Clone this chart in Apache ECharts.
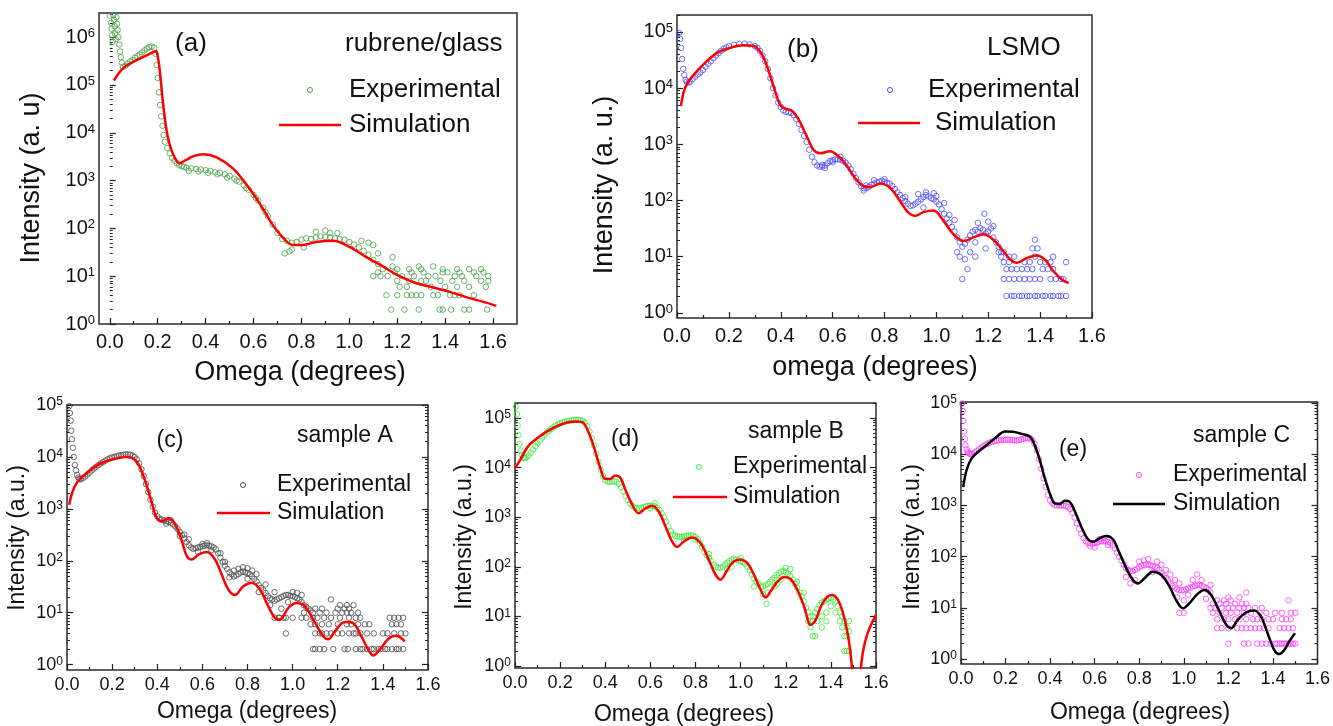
<!DOCTYPE html>
<html>
<head>
<meta charset="utf-8">
<script src="https://cdn.jsdelivr.net/npm/echarts@6/dist/echarts.min.js"></script>
<style>
html, body { margin: 0; padding: 0; background: #fff; }
#main { width: 1333px; height: 726px; }
</style>
</head>
<body>
<div id="main"></div>
<script>
// tick labels
const xLabelValues = [0, 0.2, 0.4, 0.6, 0.8, 1.0, 1.2, 1.4, 1.6];
const xMinorValues = [0.1, 0.3, 0.5, 0.7, 0.9, 1.1, 1.3, 1.5];
const decadesA = [1, 10, 100, 1e3, 1e4, 1e5, 1e6];
const decadesB = [1, 10, 100, 1e3, 1e4, 1e5];

// (a) rubrene/glass
const aExp = [
  [0.0, 2.8e6], [0.005, 2.0e6], [0.008, 1.5e6], [0.01, 1.1e6], [0.012, 8e5], [0.015, 2.9e6], [0.018, 2.3e6],
  [0.02, 1.7e6], [0.022, 1.2e6], [0.025, 9e5], [0.028, 2.6e6], [0.03, 1.9e6], [0.033, 1.4e6], [0.036, 1.0e6],
  [0.04, 7e5], [0.043, 5e5], [0.046, 3.8e5], [0.05, 2.9e5], [0.055, 2.4e5], [0.065, 2.5e5], [0.075, 2.8e5],
  [0.085, 3.1e5], [0.095, 3.3e5], [0.105, 3.7e5], [0.115, 4.0e5], [0.125, 4.3e5], [0.135, 4.8e5], [0.145, 5.3e5],
  [0.155, 5.8e5], [0.165, 6.2e5], [0.175, 6.4e5], [0.185, 6.0e5], [0.19, 4.5e5], [0.195, 2.6e5], [0.2, 1.4e5],
  [0.205, 7e4], [0.21, 3.8e4], [0.215, 2.2e4], [0.22, 1.4e4], [0.225, 9e3], [0.23, 6.5e3], [0.24, 4.8e3],
  [0.25, 3.7e3], [0.26, 3.0e3], [0.27, 2.6e3], [0.28, 2.3e3], [0.29, 2.1e3], [0.3, 2.0e3], [0.31, 1.95e3],
  [0.32, 1.85e3], [0.34, 1.8e3], [0.36, 1.75e3], [0.38, 1.7e3], [0.4, 1.65e3], [0.42, 1.6e3], [0.44, 1.5e3],
  [0.46, 1.45e3], [0.48, 1.35e3], [0.5, 1.25e3], [0.52, 1.1e3], [0.54, 950], [0.56, 800], [0.58, 640],
  [0.6, 500], [0.62, 380], [0.64, 270], [0.66, 180], [0.68, 120], [0.7, 80], [0.72, 60], [0.74, 55],
  [0.76, 50], [0.78, 52], [0.8, 58], [0.82, 62], [0.84, 60], [0.86, 64], [0.88, 68], [0.9, 66], [0.92, 65],
  [0.94, 62], [0.96, 60], [0.98, 58], [1.0, 52], [1.02, 46], [1.04, 40], [1.06, 34], [1.08, 28], [1.1, 22],
  [1.12, 18], [0.33, 1.6e3], [0.37, 1.55e3], [0.41, 1.45e3], [0.45, 1.35e3], [0.49, 1.15e3], [0.53, 1.0e3],
  [0.57, 700], [0.61, 430], [0.65, 220], [0.73, 30], [0.75, 33], [0.76, 36], [0.9, 90], [0.92, 80], [0.86, 85],
  [0.95, 80], [1.05, 55], [1.08, 50], [1.1, 45], [1.12, 30], [1.1, 10], [1.12, 12], [1.18, 25], [0.81, 40],
  [1.175, 2], [1.23, 2], [1.29, 2], [1.377, 2], [1.39, 2], [1.425, 2], [1.48, 2], [1.5, 2], [1.575, 2],
  [1.155, 4], [1.2, 4], [1.24, 4], [1.26, 4], [1.28, 4], [1.3, 4], [1.35, 4], [1.37, 4], [1.42, 4], [1.44, 4],
  [1.46, 4], [1.52, 4], [1.21, 6], [1.24, 6], [1.34, 6], [1.4, 6], [1.45, 6], [1.5, 6], [1.57, 6],
  [1.2, 8], [1.25, 8], [1.3, 8], [1.32, 8], [1.38, 8], [1.43, 8], [1.48, 8], [1.55, 8], [1.58, 8],
  [1.13, 10], [1.16, 10], [1.22, 10], [1.27, 10], [1.33, 10], [1.36, 10], [1.44, 10], [1.47, 10], [1.53, 10],
  [1.58, 10], [1.19, 12], [1.26, 12], [1.31, 12], [1.39, 12], [1.41, 12], [1.46, 12], [1.52, 12], [1.56, 12],
  [1.14, 14], [1.2, 14], [1.25, 14], [1.3, 14], [1.39, 14], [1.45, 14], [1.5, 14], [1.55, 14],
  [1.18, 16], [1.29, 16], [1.35, 16]
];
const aSim = [
  [0.017, 1.24e5], [0.054, 2.2e5], [0.096, 3.0e5], [0.152, 4.1e5], [0.185, 5.0e5], [0.194, 5.1e5], [0.2, 4.0e5],
  [0.207, 2.4e5], [0.221, 4.8e4], [0.235, 1.3e4], [0.249, 5.9e3], [0.27, 3.1e3], [0.291, 2.3e3], [0.319, 2.7e3],
  [0.347, 3.2e3], [0.389, 3.55e3], [0.444, 3.1e3], [0.514, 1.8e3], [0.583, 680], [0.639, 260], [0.681, 117],
  [0.723, 64], [0.765, 45], [0.806, 45], [0.862, 52], [0.932, 55], [1.001, 41], [1.071, 25], [1.14, 16],
  [1.21, 10], [1.28, 7.1], [1.35, 5.8], [1.42, 4.7], [1.49, 3.6], [1.56, 2.9], [1.614, 2.4]
];

// (b) LSMO
const bExp = [
  [0.008, 9.6e4], [0.012, 7.5e4], [0.016, 5.2e4], [0.02, 3.3e4], [0.024, 2.2e4], [0.028, 1.7e4], [0.033, 1.4e4],
  [0.038, 1.3e4], [0.045, 1.25e4], [0.05, 1.3e4], [0.06, 1.45e4], [0.07, 1.6e4], [0.08, 1.75e4], [0.09, 1.9e4],
  [0.1, 2.1e4], [0.11, 2.4e4], [0.12, 2.7e4], [0.13, 3.0e4], [0.14, 3.4e4], [0.15, 3.8e4], [0.16, 4.2e4],
  [0.17, 4.6e4], [0.18, 5.0e4], [0.19, 5.3e4], [0.2, 5.6e4], [0.22, 5.9e4], [0.24, 6.1e4], [0.26, 6.2e4],
  [0.28, 6.0e4], [0.3, 5.6e4], [0.31, 5.2e4], [0.32, 4.6e4], [0.33, 3.8e4], [0.34, 3.0e4], [0.35, 2.2e4],
  [0.36, 1.5e4], [0.37, 1.0e4], [0.38, 7.5e3], [0.39, 5.5e3], [0.4, 4.6e3], [0.41, 4.0e3], [0.42, 3.8e3],
  [0.43, 3.7e3], [0.44, 3.6e3], [0.45, 3.3e3], [0.46, 2.8e3], [0.47, 2.3e3], [0.48, 1.8e3], [0.49, 1.4e3],
  [0.5, 1.1e3], [0.51, 800], [0.52, 600], [0.53, 480], [0.54, 420], [0.55, 400], [0.56, 400], [0.57, 420],
  [0.58, 460], [0.59, 500], [0.6, 520], [0.61, 540], [0.62, 540], [0.63, 530], [0.64, 510], [0.65, 470],
  [0.66, 420], [0.67, 360], [0.68, 300], [0.69, 250], [0.7, 210], [0.71, 180], [0.72, 165], [0.73, 165],
  [0.74, 175], [0.75, 190], [0.76, 200], [0.77, 210], [0.78, 215], [0.79, 225], [0.8, 215], [0.81, 205],
  [0.82, 200], [0.83, 180], [0.84, 160], [0.85, 140], [0.86, 125], [0.87, 110], [0.88, 98], [0.89, 88],
  [0.9, 80], [0.91, 82], [0.92, 88], [0.93, 95], [0.94, 105], [0.95, 115], [0.96, 125], [0.97, 118],
  [0.98, 110], [0.99, 105], [1.0, 95], [1.01, 85], [1.02, 70], [1.03, 58], [1.04, 48], [1.05, 40], [1.06, 34],
  [1.07, 28], [1.08, 22], [1.09, 18], [1.1, 15], [1.11, 17], [1.12, 20], [1.13, 24], [1.14, 28], [1.15, 30],
  [1.16, 28], [1.17, 32], [1.18, 30], [1.19, 26], [1.2, 28], [1.21, 32], [1.22, 22], [1.23, 18], [1.24, 15],
  [1.25, 12], [0.93, 130], [0.96, 140], [0.95, 75], [0.99, 135], [1.0, 120], [1.03, 90], [1.05, 55], [1.07, 45],
  [1.08, 12], [1.09, 10], [1.1, 4], [1.12, 6], [1.13, 12], [1.15, 18], [1.16, 40], [1.185, 58], [1.2, 42],
  [1.22, 35], [1.19, 14], [1.15, 10], [1.11, 9], [0.57, 380], [0.6, 480], [0.63, 600], [0.56, 430],
  [0.88, 115], [0.76, 230], [0.8, 240], [0.72, 150], [0.73, 185],
  [1.27, 2], [1.29, 2], [1.3, 2], [1.32, 2], [1.33, 2], [1.35, 2], [1.36, 2], [1.38, 2], [1.39, 2], [1.41, 2],
  [1.42, 2], [1.44, 2], [1.45, 2], [1.47, 2], [1.48, 2], [1.5, 2],
  [1.26, 4], [1.28, 4], [1.3, 4], [1.32, 4], [1.34, 4], [1.36, 4], [1.38, 4], [1.4, 4], [1.44, 4], [1.46, 4],
  [1.48, 4], [1.49, 4], [1.27, 6], [1.29, 6], [1.31, 6], [1.33, 6], [1.35, 6], [1.37, 6], [1.41, 6], [1.43, 6],
  [1.45, 6], [1.26, 8], [1.28, 8], [1.34, 8], [1.36, 8], [1.4, 8], [1.42, 8], [1.44, 8], [1.5, 8],
  [1.25, 10], [1.28, 10], [1.3, 10], [1.38, 10], [1.45, 10], [1.24, 12], [1.26, 12], [1.37, 14], [1.39, 14],
  [1.38, 20]
];
const bSim = [
  [0.015, 4.8e3], [0.031, 1.0e4], [0.063, 1.7e4], [0.1, 2.6e4], [0.153, 4.2e4], [0.205, 5.2e4], [0.256, 5.8e4],
  [0.295, 5.6e4], [0.327, 4.0e4], [0.352, 2.1e4], [0.378, 8.8e3], [0.397, 5.1e3], [0.417, 4.3e3], [0.442, 4.0e3],
  [0.468, 2.8e3], [0.5, 1.4e3], [0.526, 800], [0.552, 690], [0.59, 755], [0.622, 615], [0.655, 410], [0.687, 252],
  [0.719, 180], [0.745, 174], [0.783, 200], [0.822, 167], [0.86, 97], [0.893, 60], [0.918, 53], [0.95, 62],
  [0.989, 66], [1.028, 43], [1.066, 25], [1.105, 19], [1.143, 22], [1.182, 25], [1.22, 20], [1.253, 13.4],
  [1.285, 8.9], [1.31, 7.8], [1.35, 9.5], [1.388, 10.5], [1.42, 8.7], [1.452, 5.5], [1.484, 3.9], [1.51, 3.4]
];

// (c) sample A
const cExp = [
  [0.01, 9.5e4], [0.013, 7e4], [0.016, 5e4], [0.019, 3.2e4], [0.022, 2.2e4], [0.026, 1.5e4], [0.03, 1e4],
  [0.035, 7e3], [0.04, 5.5e3], [0.045, 4.5e3], [0.05, 4e3], [0.055, 3.8e3], [0.06, 3.7e3], [0.07, 3.9e3],
  [0.08, 4.2e3], [0.09, 4.6e3], [0.1, 5e3], [0.11, 5.5e3], [0.12, 6e3], [0.13, 6.5e3], [0.14, 7e3],
  [0.15, 7.5e3], [0.16, 8e3], [0.17, 8.5e3], [0.18, 9e3], [0.19, 9.4e3], [0.2, 9.8e3], [0.21, 1.0e4],
  [0.22, 1.03e4], [0.23, 1.06e4], [0.24, 1.08e4], [0.25, 1.1e4], [0.26, 1.12e4], [0.27, 1.12e4], [0.28, 1.1e4],
  [0.29, 1.06e4], [0.3, 1.0e4], [0.31, 9e3], [0.32, 7.5e3], [0.33, 5.8e3], [0.34, 4.3e3], [0.35, 3.0e3],
  [0.36, 2.1e3], [0.37, 1.5e3], [0.38, 1.1e3], [0.39, 850], [0.4, 720], [0.41, 650], [0.42, 620], [0.43, 600],
  [0.44, 580], [0.45, 560], [0.46, 540], [0.47, 500], [0.48, 460], [0.49, 410], [0.5, 360], [0.51, 310],
  [0.52, 270], [0.53, 230], [0.54, 200], [0.55, 180], [0.56, 170], [0.57, 175], [0.58, 180], [0.59, 185],
  [0.6, 190], [0.61, 195], [0.62, 200], [0.63, 195], [0.64, 190], [0.65, 180], [0.66, 165], [0.67, 140],
  [0.68, 115], [0.69, 95], [0.7, 80], [0.71, 70], [0.72, 60], [0.73, 55], [0.74, 50], [0.75, 52], [0.76, 56],
  [0.77, 60], [0.78, 62], [0.79, 60], [0.8, 58], [0.81, 55], [0.82, 50], [0.83, 45], [0.84, 40], [0.85, 34],
  [0.86, 30], [0.87, 27], [0.88, 24], [0.89, 21], [0.9, 19], [0.91, 18], [0.92, 17], [0.93, 18], [0.94, 19],
  [0.95, 20], [0.96, 21], [0.97, 22], [0.98, 22], [0.99, 21], [1.0, 21], [1.01, 20], [1.02, 19], [1.03, 18],
  [1.04, 16], [1.05, 14], [1.06, 13], [1.07, 12], [1.08, 11],
  [0.62, 220], [0.64, 160], [0.58, 150], [0.6, 210], [0.7, 95], [0.72, 48], [0.74, 65], [0.76, 70], [0.78, 75],
  [0.8, 72], [0.82, 65], [0.8, 45], [0.84, 55], [0.85, 25], [0.88, 35], [0.9, 14], [0.92, 25], [0.95, 12],
  [0.96, 8], [0.97, 4], [0.98, 16], [1.0, 25], [1.02, 24], [1.04, 22], [1.06, 8], [1.05, 10], [0.92, 8],
  [0.94, 8], [0.5, 300], [0.52, 320], [0.46, 600], [0.44, 520], [0.54, 260], [0.68, 140],
  [1.09, 2], [1.1, 2], [1.12, 2], [1.14, 2], [1.18, 2], [1.23, 2], [1.245, 2], [1.28, 2], [1.3, 2], [1.31, 2],
  [1.33, 2], [1.35, 2], [1.36, 2], [1.38, 2], [1.39, 2], [1.41, 2], [1.42, 2], [1.44, 2], [1.46, 2], [1.47, 2],
  [1.49, 2], [1.1, 4], [1.12, 4], [1.13, 4], [1.15, 4], [1.17, 4], [1.2, 4], [1.22, 4], [1.25, 4], [1.27, 4],
  [1.28, 4], [1.3, 4], [1.33, 4], [1.36, 4], [1.4, 4], [1.42, 4], [1.45, 4], [1.48, 4], [1.5, 4],
  [1.08, 6], [1.1, 6], [1.13, 6], [1.16, 6], [1.2, 6], [1.24, 6], [1.26, 6], [1.29, 6], [1.32, 6], [1.34, 6],
  [1.44, 6], [1.46, 6], [1.48, 6], [0.94, 8], [0.97, 8], [1.0, 8], [1.04, 8], [1.09, 8], [1.11, 8], [1.14, 8],
  [1.17, 8], [1.21, 8], [1.25, 8], [1.28, 8], [1.3, 8], [1.43, 8], [1.45, 8], [1.47, 8], [1.49, 8],
  [1.09, 10], [1.12, 10], [1.15, 10], [1.19, 10], [1.22, 10], [1.24, 10], [1.26, 10], [1.29, 10],
  [1.1, 12], [1.13, 12], [1.2, 12], [1.23, 12], [1.25, 12], [1.21, 14], [1.24, 14], [1.27, 14], [1.17, 18]
];
const cSim = [
  [0.01, 1.2e3], [0.022, 2.0e3], [0.044, 3.2e3], [0.081, 4.6e3], [0.14, 7.2e3], [0.2, 8.9e3], [0.258, 1.0e4],
  [0.288, 9.6e3], [0.317, 7.2e3], [0.347, 3.4e3], [0.376, 1.3e3], [0.398, 670], [0.42, 580], [0.45, 670],
  [0.48, 500], [0.509, 240], [0.531, 123], [0.553, 106], [0.583, 132], [0.62, 147], [0.656, 106], [0.686, 54],
  [0.715, 28], [0.745, 22], [0.78, 32], [0.819, 38], [0.855, 28], [0.892, 13.3], [0.922, 7.9], [0.944, 7.4],
  [0.981, 12.4], [1.018, 15.4], [1.055, 13.3], [1.1, 6.3], [1.136, 3.5], [1.158, 3.1], [1.187, 4.4],
  [1.232, 6.6], [1.268, 6.3], [1.305, 3.5], [1.335, 1.95], [1.357, 1.5], [1.386, 1.95], [1.423, 3.1],
  [1.453, 3.6], [1.475, 3.4], [1.497, 2.8]
];

// (d) sample B
const dExp = [
  [0.004, 1.7e5], [0.008, 1.2e5], [0.012, 7e4], [0.016, 4.5e4], [0.02, 3e4], [0.025, 2.2e4], [0.03, 1.8e4],
  [0.035, 1.6e4], [0.04, 1.55e4], [0.045, 1.55e4], [0.05, 1.6e4], [0.06, 1.75e4], [0.07, 2e4], [0.08, 2.3e4],
  [0.09, 2.7e4], [0.1, 3.1e4], [0.11, 3.5e4], [0.12, 4e4], [0.13, 4.5e4], [0.14, 5e4], [0.15, 5.5e4],
  [0.16, 6e4], [0.17, 6.5e4], [0.18, 7e4], [0.19, 7.4e4], [0.2, 7.8e4], [0.21, 8.1e4], [0.22, 8.4e4],
  [0.23, 8.6e4], [0.24, 8.8e4], [0.25, 8.9e4], [0.26, 9e4], [0.27, 9.1e4], [0.28, 9.1e4], [0.29, 9e4],
  [0.3, 8.7e4], [0.31, 8e4], [0.32, 6.8e4], [0.33, 5.3e4], [0.34, 3.9e4], [0.35, 2.8e4], [0.36, 1.9e4],
  [0.37, 1.3e4], [0.38, 9e3], [0.39, 6.8e3], [0.4, 5.6e3], [0.41, 5.2e3], [0.42, 5.1e3], [0.43, 5.2e3],
  [0.44, 5.3e3], [0.45, 5.1e3], [0.46, 4.7e3], [0.47, 4e3], [0.48, 3.3e3], [0.49, 2.7e3], [0.5, 2.2e3],
  [0.51, 1.9e3], [0.52, 1.7e3], [0.53, 1.55e3], [0.54, 1.5e3], [0.55, 1.5e3], [0.56, 1.55e3], [0.57, 1.6e3],
  [0.58, 1.65e3], [0.59, 1.7e3], [0.6, 1.7e3], [0.61, 1.7e3], [0.62, 1.65e3], [0.63, 1.55e3], [0.64, 1.4e3],
  [0.65, 1.2e3], [0.66, 1.0e3], [0.67, 820], [0.68, 650], [0.69, 520], [0.7, 450], [0.71, 420], [0.72, 410],
  [0.73, 400], [0.74, 400], [0.75, 410], [0.76, 420], [0.77, 430], [0.78, 430], [0.79, 420], [0.8, 400],
  [0.81, 360], [0.82, 300], [0.83, 250], [0.84, 200], [0.85, 170], [0.86, 150], [0.87, 130], [0.88, 110],
  [0.89, 100], [0.9, 95], [0.91, 95], [0.92, 100], [0.93, 110], [0.94, 120], [0.95, 130], [0.96, 140],
  [0.97, 145], [0.98, 140], [0.99, 135], [1.0, 130], [1.01, 125], [1.02, 115], [1.03, 100], [1.04, 85],
  [1.05, 70], [1.06, 58], [1.07, 50], [1.08, 45], [1.09, 40], [1.1, 40], [1.11, 42], [1.12, 45], [1.13, 50],
  [1.14, 55], [1.15, 60], [1.16, 68], [1.17, 75], [1.18, 80], [1.19, 82], [1.2, 78], [1.21, 72], [1.22, 65],
  [1.23, 55], [1.24, 45], [1.25, 38], [1.26, 30], [1.27, 25], [1.28, 20], [1.29, 15], [1.3, 12], [1.31, 10],
  [1.32, 10], [1.33, 12], [1.34, 14], [1.35, 17], [1.36, 19], [1.37, 20], [1.38, 22], [1.39, 23], [1.4, 24],
  [1.41, 22], [1.42, 20], [1.43, 16], [1.44, 12], [1.45, 10], [1.46, 8], [1.47, 6], [1.48, 5],
  [0.94, 90], [0.96, 100], [1.0, 150], [1.06, 40], [1.1, 28], [1.115, 18], [1.12, 30], [1.15, 40], [1.2, 95],
  [1.22, 90], [1.25, 50], [1.28, 30], [1.3, 8], [1.31, 6], [1.32, 4], [1.33, 4], [1.32, 8], [1.34, 8],
  [1.36, 10], [1.38, 12], [1.4, 16], [1.42, 12], [1.44, 8], [1.45, 6], [1.46, 4], [1.47, 4], [1.46, 2],
  [1.47, 2], [1.48, 2], [1.48, 8], [1.36, 6], [1.38, 8], [1.18, 55], [1.16, 45], [0.86, 180], [0.8, 350],
  [0.75, 350], [0.6, 1.5e3], [0.62, 1.9e3]
];
const dSim = [
  [0.0, 9.8e3], [0.022, 1.4e4], [0.059, 2.7e4], [0.111, 4.3e4], [0.17, 6.3e4], [0.23, 8.1e4], [0.274, 8.5e4],
  [0.304, 7.9e4], [0.333, 4.3e4], [0.356, 2.1e4], [0.378, 9.8e3], [0.4, 5.9e3], [0.422, 5.9e3], [0.444, 6.9e3],
  [0.467, 6.2e3], [0.489, 3.6e3], [0.519, 1.8e3], [0.548, 1.2e3], [0.578, 1.5e3], [0.607, 1.7e3],
  [0.637, 1.3e3], [0.667, 650], [0.696, 324], [0.719, 250], [0.748, 324], [0.785, 390], [0.822, 300],
  [0.859, 138], [0.889, 69], [0.911, 55], [0.941, 87], [0.97, 128], [1.0, 138], [1.03, 118], [1.059, 69],
  [1.089, 34], [1.111, 24], [1.133, 32], [1.163, 50], [1.193, 62], [1.222, 56], [1.252, 34], [1.281, 16],
  [1.311, 6.7], [1.333, 8.5], [1.356, 16], [1.385, 25], [1.407, 27], [1.43, 22], [1.452, 12.5], [1.474, 4.6],
  [1.489, 1.5], [1.5, 0.4], [1.511, 0.15], [1.526, 0.4], [1.541, 1.8], [1.563, 4.6], [1.6, 10.7]
];

// (e) sample C
const eExp = [
  [0.005, 9.8e4], [0.008, 7e4], [0.011, 4.5e4], [0.014, 2.8e4], [0.017, 2e4], [0.02, 1.5e4], [0.025, 1.25e4],
  [0.03, 1.12e4], [0.035, 1.05e4], [0.04, 1.02e4], [0.045, 1.0e4], [0.05, 1.02e4], [0.06, 1.08e4],
  [0.07, 1.15e4], [0.08, 1.25e4], [0.09, 1.35e4], [0.1, 1.45e4], [0.11, 1.55e4], [0.12, 1.62e4], [0.13, 1.7e4],
  [0.14, 1.75e4], [0.15, 1.8e4], [0.16, 1.85e4], [0.17, 1.88e4], [0.18, 1.9e4], [0.19, 1.92e4], [0.2, 1.92e4],
  [0.21, 1.93e4], [0.22, 1.92e4], [0.23, 1.9e4], [0.24, 1.88e4], [0.25, 1.85e4], [0.26, 1.9e4], [0.27, 1.95e4],
  [0.28, 2.0e4], [0.29, 2.05e4], [0.3, 2.1e4], [0.31, 2.05e4], [0.32, 1.9e4], [0.33, 1.6e4], [0.34, 1.2e4],
  [0.35, 8e3], [0.36, 5.2e3], [0.37, 3.4e3], [0.38, 2.3e3], [0.39, 1.6e3], [0.4, 1.25e3], [0.41, 1.1e3],
  [0.42, 1.02e3], [0.43, 1.0e3], [0.44, 1.0e3], [0.45, 1.0e3], [0.46, 1.0e3], [0.47, 980], [0.48, 940],
  [0.49, 850], [0.5, 720], [0.51, 580], [0.52, 450], [0.53, 350], [0.54, 280], [0.55, 230], [0.56, 200],
  [0.57, 185], [0.58, 180], [0.59, 180], [0.6, 185], [0.61, 190], [0.62, 195], [0.63, 200], [0.64, 200],
  [0.65, 198], [0.66, 195], [0.67, 185], [0.68, 165], [0.69, 145], [0.7, 120], [0.71, 100], [0.72, 85],
  [0.73, 70], [0.74, 60], [0.75, 55], [0.76, 52], [0.77, 52], [0.78, 55], [0.79, 58], [0.8, 62], [0.81, 66],
  [0.82, 68], [0.83, 70], [0.84, 70], [0.85, 68], [0.86, 66], [0.87, 64], [0.88, 60], [0.89, 55], [0.9, 48],
  [0.91, 42], [0.92, 38], [0.93, 34], [0.94, 30], [0.95, 27], [0.96, 25], [0.97, 23], [0.98, 22], [0.99, 22],
  [1.0, 22], [1.01, 23], [1.02, 24], [1.03, 25], [1.04, 26], [1.05, 27], [1.06, 28], [1.07, 28], [1.08, 27],
  [1.09, 26], [1.1, 24], [1.11, 22], [1.12, 20],
  [0.6, 150], [0.62, 220], [0.58, 160], [0.64, 230], [0.66, 170], [0.74, 40], [0.76, 30], [0.78, 35],
  [0.8, 80], [0.82, 85], [0.84, 90], [0.86, 50], [0.88, 80], [0.9, 70], [0.92, 55], [0.94, 45], [0.96, 35],
  [0.98, 8], [1.0, 14], [1.02, 18], [1.04, 35], [1.06, 45], [1.08, 35], [1.1, 15], [1.12, 28], [0.98, 30],
  [1.0, 8], [0.97, 16],
  [1.2, 2], [1.27, 2], [1.29, 2], [1.33, 2], [1.35, 2], [1.37, 2], [1.39, 2], [1.41, 2], [1.42, 2], [1.43, 2],
  [1.44, 2], [1.45, 2], [1.46, 2], [1.47, 2], [1.48, 2], [1.49, 2], [1.5, 2],
  [1.15, 4], [1.17, 4], [1.2, 4], [1.24, 4], [1.26, 4], [1.28, 4], [1.3, 4], [1.32, 4], [1.34, 4], [1.36, 4],
  [1.38, 4], [1.43, 4], [1.45, 4], [1.47, 4], [1.49, 4],
  [1.15, 6], [1.18, 6], [1.2, 6], [1.23, 6], [1.25, 6], [1.28, 6], [1.31, 6], [1.33, 6], [1.35, 6], [1.38, 6],
  [1.4, 6], [1.44, 6], [1.46, 6], [1.48, 6],
  [1.13, 8], [1.16, 8], [1.19, 8], [1.21, 8], [1.24, 8], [1.27, 8], [1.3, 8], [1.34, 8], [1.37, 8], [1.41, 8],
  [1.44, 8], [1.48, 8], [1.5, 8], [1.12, 10], [1.14, 10], [1.17, 10], [1.2, 10], [1.22, 10], [1.25, 10],
  [1.27, 10], [1.29, 10], [1.32, 10], [1.35, 10], [1.13, 12], [1.16, 12], [1.19, 12], [1.23, 12], [1.26, 12],
  [1.28, 12], [1.15, 14], [1.18, 14], [1.21, 14], [1.47, 14], [1.2, 16], [1.25, 16], [1.28, 20]
];
const eSim = [
  [0.01, 2.3e3], [0.025, 4.9e3], [0.048, 8.3e3], [0.085, 1.2e4], [0.122, 1.6e4], [0.16, 2.2e4], [0.197, 2.8e4],
  [0.234, 2.75e4], [0.272, 2.5e4], [0.31, 2.2e4], [0.331, 1.5e4], [0.354, 7.6e3], [0.376, 3.4e3], [0.399, 1.7e3],
  [0.421, 1.1e3], [0.443, 1.07e3], [0.466, 1.23e3], [0.488, 1.17e3], [0.51, 790], [0.54, 385], [0.57, 218],
  [0.593, 195], [0.622, 229], [0.652, 253], [0.682, 218], [0.712, 116], [0.742, 59], [0.772, 35], [0.794, 30],
  [0.824, 38], [0.861, 51], [0.899, 44], [0.936, 26], [0.966, 14], [0.996, 9.8], [1.025, 12.3], [1.063, 19],
  [1.093, 22.4], [1.122, 18], [1.16, 8.5], [1.19, 4.7], [1.212, 4.0], [1.242, 5.8], [1.279, 8.1], [1.316, 8.9],
  [1.346, 6.8], [1.376, 3.2], [1.406, 1.5], [1.428, 1.25], [1.451, 1.5], [1.473, 2.2], [1.499, 3.2]
];

const FONT = "'Liberation Sans', Arial, sans-serif";

// minor log ticks 2..9 per decade inside the axis range
function logMinor(lo, hi, max) {
  const out = [];
  for (let k = lo; k < hi; k++) {
    for (let m = 2; m <= 9; m++) {
      const v = m * Math.pow(10, k);
      if (v <= max) out.push(v);
    }
  }
  return out;
}

const panels = [
  {
    grid: { left: 99, top: 13, width: 418, height: 311 }, xMin: -0.045, xMax: 1.70,
    yMin: 1, yMax: 3.2e6, decades: decadesA, exp: aExp, sim: aSim,
    expColor: '#46a046', simColor: '#ff0000', mirror: false, big: true,
    xTitle: 'Omega (degrees)', yTitle: 'Intensity (a. u)', xTitlePos: [300, 373], yTitlePos: [32, 178],
    tag: '(a)', tagPos: [191, 44], name: 'rubrene/glass', namePos: [345, 44],
    legX: 349, legExpY: 90, legSimY: 125, symX: 310, lineX: [279, 341]
  },
  {
    grid: { left: 677, top: 15, width: 415, height: 303 }, xMin: 0, xMax: 1.6,
    yMin: 0.81, yMax: 2e5, decades: decadesB, exp: bExp, sim: bSim,
    expColor: '#4f4fff', simColor: '#ff0000', mirror: false, big: true,
    xTitle: 'omega (degrees)', yTitle: 'Intensity (a. u.)', xTitlePos: [875, 368], yTitlePos: [605, 185],
    tag: '(b)', tagPos: [803, 50], name: 'LSMO', namePos: [987, 48],
    legX: 928, legSimX: 935, legExpY: 90, legSimY: 123, symX: 890, lineX: [858, 920]
  },
  {
    grid: { left: 67, top: 405, width: 361, height: 265 }, xMin: 0, xMax: 1.6,
    yMin: 0.79, yMax: 1e5, decades: decadesB, exp: cExp, sim: cSim,
    expColor: '#4d4d4d', simColor: '#ff0000', mirror: true, big: false,
    xTitle: 'Omega (degrees)', yTitle: 'Intensity (a.u.)', xTitlePos: [247, 712], yTitlePos: [18, 538],
    tag: '(c)', tagPos: [170, 441], name: 'sample A', namePos: [297, 436],
    legX: 277, legExpY: 485, legSimY: 513, symX: 243, lineX: [217, 270]
  },
  {
    grid: { left: 515, top: 403, width: 361, height: 265 }, xMin: 0, xMax: 1.6,
    yMin: 0.91, yMax: 2e5, decades: decadesB, exp: dExp, sim: dSim,
    expColor: '#3fe83f', simColor: '#ff0000', mirror: true, big: false,
    xTitle: 'Omega (degrees)', yTitle: 'Intensity (a.u.)', xTitlePos: [684, 715], yTitlePos: [465, 537],
    tag: '(d)', tagPos: [625, 440], name: 'sample B', namePos: [748, 432],
    legX: 733, legExpY: 467, legSimY: 497, symX: 699, lineX: [673, 727]
  },
  {
    grid: { left: 961, top: 402, width: 357, height: 262 }, xMin: 0, xMax: 1.6,
    yMin: 0.8, yMax: 1.05e5, decades: decadesB, exp: eExp, sim: eSim,
    expColor: '#ff3cff', simColor: '#000000', mirror: true, big: false,
    xTitle: 'Omega (degrees)', yTitle: 'Intensity (a.u.)', xTitlePos: [1140, 713], yTitlePos: [913, 537],
    tag: '(e)', tagPos: [1073, 450], name: 'sample C', namePos: [1193, 436],
    legX: 1173, legExpY: 475, legSimY: 504, symX: 1139, lineX: [1113, 1165]
  }
];

const grids = [], xAxes = [], yAxes = [], series = [], graphics = [];

panels.forEach((p, i) => {
  const tickFont = p.big ? 20 : 18;
  const supFont = p.big ? 13 : 12;
  const textFont = p.big ? 26 : 23;
  const titleFont = p.big ? 27 : 23;
  grids.push(Object.assign({ show: true, borderColor: '#2b2b2b', borderWidth: 1.5 }, p.grid));

  const xBase = {
    gridIndex: i, type: 'value', min: p.xMin, max: p.xMax, position: 'bottom',
    axisLine: { show: false }, splitLine: { show: false }
  };
  const xMain = xAxes.length;
  xAxes.push(Object.assign({}, xBase, {
    axisTick: { inside: true, length: 6, customValues: xLabelValues, lineStyle: { color: '#222', width: 1.2 } },
    axisLabel: {
      customValues: xLabelValues, margin: p.big ? 8 : 6, fontSize: tickFont, fontFamily: FONT, color: '#111',
      formatter: (v) => v.toFixed(1)
    }
  }));
  xAxes.push(Object.assign({}, xBase, {
    axisTick: { inside: true, length: 3, customValues: xMinorValues, lineStyle: { color: '#222', width: 1.2 } },
    axisLabel: { show: false }
  }));

  const yBase = {
    gridIndex: i, type: 'log', logBase: 10, min: p.yMin, max: p.yMax,
    axisLine: { show: false }, splitLine: { show: false }
  };
  const minor = logMinor(0, p.decades.length, p.yMax);
  const yMain = yAxes.length;
  yAxes.push(Object.assign({}, yBase, {
    position: 'left',
    axisTick: { inside: true, length: 6, customValues: p.decades, lineStyle: { color: '#222', width: 1.2 } },
    axisLabel: {
      customValues: p.decades, margin: 4,
      formatter: (v) => '{b|10}{s|' + Math.round(Math.log10(v)) + '}',
      rich: {
        b: { fontSize: tickFont, fontFamily: FONT, color: '#111' },
        s: { fontSize: supFont, fontFamily: FONT, color: '#111', verticalAlign: 'top' }
      }
    }
  }));
  yAxes.push(Object.assign({}, yBase, {
    position: 'left',
    axisTick: { inside: true, length: 3, customValues: minor, lineStyle: { color: '#222', width: 1 } },
    axisLabel: { show: false }
  }));
  if (p.mirror) {
    yAxes.push(Object.assign({}, yBase, {
      position: 'right',
      axisTick: { inside: true, length: 6, customValues: p.decades, lineStyle: { color: '#222', width: 1.2 } },
      axisLabel: { show: false }
    }));
    yAxes.push(Object.assign({}, yBase, {
      position: 'right',
      axisTick: { inside: true, length: 3, customValues: minor, lineStyle: { color: '#222', width: 1 } },
      axisLabel: { show: false }
    }));
  }

  series.push({
    name: 'Experimental', type: 'scatter', xAxisIndex: xMain, yAxisIndex: yMain,
    data: p.exp, symbol: 'circle', symbolSize: 5.5, z: 2,
    itemStyle: { color: 'rgba(0,0,0,0)', borderColor: p.expColor, borderWidth: 1 }
  });
  series.push({
    name: 'Simulation', type: 'line', xAxisIndex: xMain, yAxisIndex: yMain,
    data: p.sim, showSymbol: false, smooth: 0.35, clip: true, z: 3,
    lineStyle: { color: p.simColor, width: 2.5 }
  });

  // axis titles
  graphics.push({
    type: 'text', x: p.xTitlePos[0], y: p.xTitlePos[1],
    style: { text: p.xTitle, fontSize: titleFont, fontFamily: FONT, fill: '#111', align: 'center', verticalAlign: 'middle' }
  });
  graphics.push({
    type: 'text', x: p.yTitlePos[0], y: p.yTitlePos[1], rotation: Math.PI / 2,
    style: { text: p.yTitle, fontSize: titleFont, fontFamily: FONT, fill: '#111', align: 'center', verticalAlign: 'middle' }
  });
  // panel tag and sample name
  graphics.push({
    type: 'text', x: p.tagPos[0], y: p.tagPos[1],
    style: { text: p.tag, fontSize: textFont, fontFamily: FONT, fill: '#111', align: 'center', verticalAlign: 'middle' }
  });
  graphics.push({
    type: 'text', x: p.namePos[0], y: p.namePos[1],
    style: { text: p.name, fontSize: textFont, fontFamily: FONT, fill: '#111', align: 'left', verticalAlign: 'middle' }
  });
  // legend
  graphics.push({
    type: 'circle', shape: { cx: p.symX, cy: p.legExpY, r: 2.5 },
    style: { fill: 'none', stroke: p.expColor, lineWidth: 1 }
  });
  graphics.push({
    type: 'text', x: p.legX, y: p.legExpY,
    style: { text: 'Experimental', fontSize: textFont, fontFamily: FONT, fill: '#111', align: 'left', verticalAlign: 'middle' }
  });
  graphics.push({
    type: 'line', shape: { x1: p.lineX[0], y1: p.legSimY, x2: p.lineX[1], y2: p.legSimY },
    style: { stroke: p.simColor, lineWidth: 2.5 }
  });
  graphics.push({
    type: 'text', x: p.legSimX || p.legX, y: p.legSimY,
    style: { text: 'Simulation', fontSize: textFont, fontFamily: FONT, fill: '#111', align: 'left', verticalAlign: 'middle' }
  });
});

const chart = echarts.init(document.getElementById('main'));
chart.setOption({
  animation: false,
  backgroundColor: '#fff',
  grid: grids,
  xAxis: xAxes,
  yAxis: yAxes,
  series: series,
  graphic: { elements: graphics }
});
</script>
</body>
</html>
